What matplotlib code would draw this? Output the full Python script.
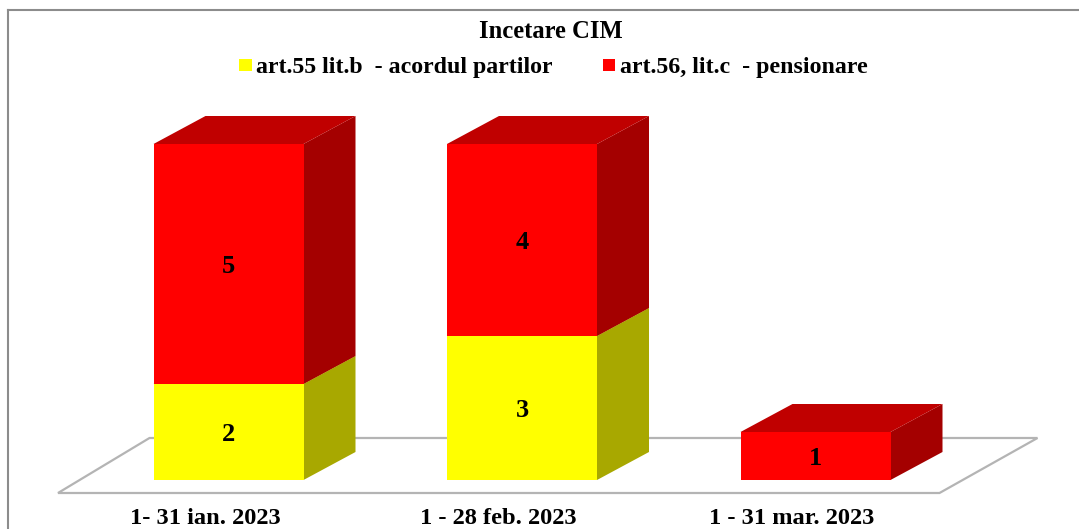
import matplotlib.pyplot as plt
from matplotlib.lines import Line2D
from matplotlib.patches import Patch, Polygon

plt.rcParams['font.family'] = ['Liberation Serif', 'DejaVu Serif']
plt.rcParams['font.weight'] = 'bold'

title = 'Incetare CIM'
categories = ['1- 31 ian. 2023', '1 - 28 feb. 2023', '1 - 31 mar. 2023']
acord = [2, 3, 0]
pensionare = [5, 4, 1]
label_acord = 'art.55 lit.b  - acordul partilor'
label_pensie = 'art.56, lit.c  - pensionare'

W, H = 1079, 529
px_x = 293.5  # pixels per category
px_y = 48  # pixels per unit
bar_w = 150 / px_x
dx = 52 / px_x  # 3d depth
dy = 28 / px_y

fig = plt.figure(figsize=(W / 100, H / 100), dpi=100)
ax = fig.add_axes([0, 34 / H, 1, 1 - 34 / H])
ax.set_xlim(-228.5 / px_x, (W - 228.5) / px_x)
ax.set_ylim(-15 / px_y, 480 / px_y)
for s in ax.spines.values():
    s.set_visible(False)
ax.set_yticks([])

# floor of the 3d chart
floor = [(-170.5 / px_x, -13 / px_y), (711 / px_x, -13 / px_y),
         (809 / px_x, 42 / px_y), (-79 / px_x, 42 / px_y)]
ax.add_patch(Polygon(floor, closed=True, facecolor='white', edgecolor='#b4b4b4', lw=1.6, zorder=1))


def draw_box(x, bottom, value, front, top_col, side_col):
    left = x - bar_w / 2
    right = x + bar_w / 2
    tp = bottom + value
    ax.bar(x, value, bar_w, bottom=bottom, color=front, zorder=3)
    side = [(right, bottom), (right + dx, bottom + dy), (right + dx, tp + dy), (right, tp)]
    ax.add_patch(Polygon(side, closed=True, facecolor=side_col, edgecolor='none', zorder=2))
    roof = [(left, tp), (left + dx, tp + dy), (right + dx, tp + dy), (right, tp)]
    ax.add_patch(Polygon(roof, closed=True, facecolor=top_col, edgecolor='none', zorder=2))


def value_label(x, y, value):
    ax.annotate(str(value), (x, y), xytext=(0, -2), textcoords='offset points',
                ha='center', va='center', fontsize=19, zorder=5)


for i in range(len(categories)):
    if acord[i] > 0:
        draw_box(i, 0, acord[i], '#ffff00', '#c0c000', '#a8a800')
        value_label(i, acord[i] / 2, acord[i])
    if pensionare[i] > 0:
        draw_box(i, acord[i], pensionare[i], '#ff0000', '#c00000', '#a40000')
        value_label(i, acord[i] + pensionare[i] / 2, pensionare[i])

ax.set_xticks([i - 0.08 for i in range(len(categories))])
ax.set_xticklabels(categories, fontsize=17.6)
ax.tick_params(axis='x', length=0, pad=9)

ax.text(550.5 / W, 1 - 32 / (H - 34), title, transform=ax.transAxes, ha='center', va='center', fontsize=17.7)

handles = [Patch(facecolor='#ffff00', label=label_acord), Patch(facecolor='#ff0000', label=label_pensie)]
ax.legend(handles=handles, ncol=2, frameon=False, fontsize=17.2, loc='center',
          bbox_to_anchor=(553.5 / W, 1 - 68 / (H - 34)), handlelength=0.52, handleheight=0.38,
          handletextpad=0.2, columnspacing=2.1, borderpad=0, borderaxespad=0)

# chart area border
border = '#8c8c8c'
fig.add_artist(Line2D([7.5 / W, 7.5 / W], [0, 1 - 9.5 / H], color=border, lw=1.5))
fig.add_artist(Line2D([7.5 / W, 1], [1 - 9.5 / H, 1 - 9.5 / H], color=border, lw=1.5))

fig.savefig('out.png', dpi=100)
